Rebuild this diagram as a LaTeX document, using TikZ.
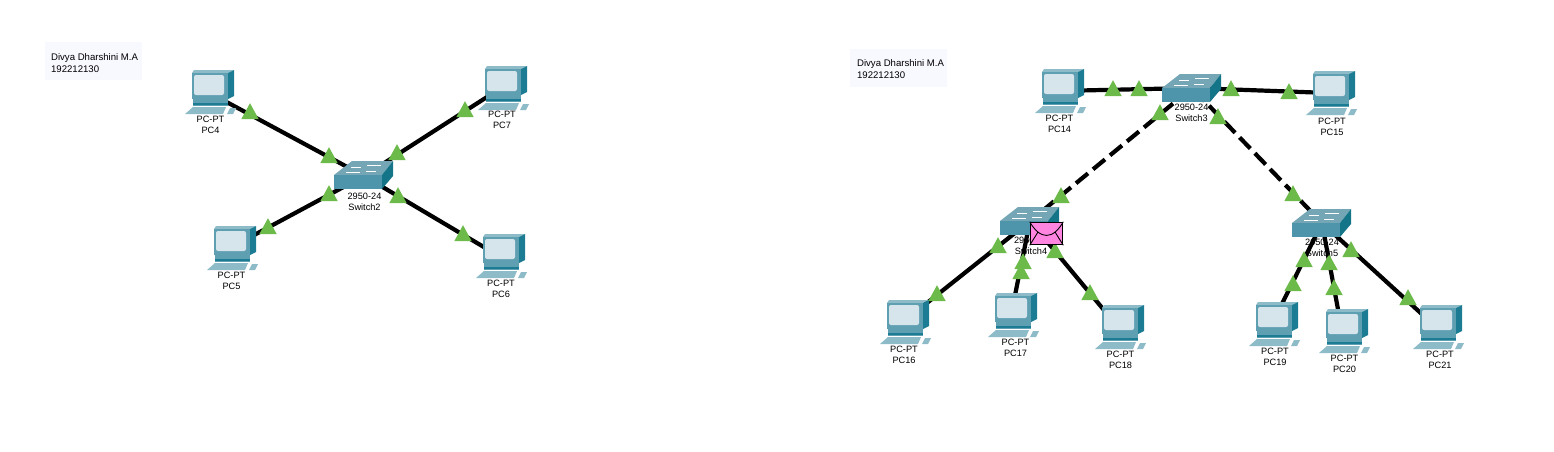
\documentclass[tikz,border=0pt]{standalone}
\usepackage{fontspec}
\setmainfont{Liberation Sans}
\usetikzlibrary{shapes.geometric}
\definecolor{pcfront}{HTML}{5F9FB2}
\definecolor{pcside}{HTML}{1C7C93}
\definecolor{pctop}{HTML}{8DBBC8}
\definecolor{pcscreen}{HTML}{D6E4EB}
\definecolor{swtop}{HTML}{74A6B5}
\definecolor{swfront}{HTML}{4E95AB}
\definecolor{swside}{HTML}{147488}
\definecolor{linkgreen}{HTML}{6CBB4A}
\definecolor{notefill}{HTML}{F8F8FF}
\definecolor{msgpink}{HTML}{FF85E0}
\tikzset{
  pcicon/.pic={
    \fill[pctop] (-16,-19) -- (-14,-22) -- (26,-22) -- (20,-19) -- cycle;
    \fill[pcside] (20,-19) -- (26,-22) -- (26,4) -- (20,7) -- cycle;
    \fill[pcfront] (-16,-19) rectangle (20,7);
    \fill[pcscreen,rounded corners=2pt] (-14,-17) rectangle (16,3);
    \fill[pcfront] (-15,7) rectangle (20,14);
    \fill[pcside] (-15,11) rectangle (20,13);
    \fill[pctop] (-23,22) -- (-15,15) -- (18,15) -- (15,22) -- cycle;
    \fill[pctop] (19,22) -- (22,16) -- (28,16) -- (25,22) -- cycle;
  },
  swicon/.pic={
    \fill[swtop] (0,0) -- (18,-14) -- (59,-14) -- (48,0) -- cycle;
    \fill[swfront] (0,0) rectangle (48,14);
    \fill[swside] (48,0) -- (59,-14) -- (59,1) -- (48,14) -- cycle;
    \draw[white,line width=0.8pt] (17,-8) -- (27,-8) (33,-10) -- (47,-10) (12,-3) -- (26,-3) (32,-4) -- (42,-4);
  }
}
\begin{document}
\begin{tikzpicture}[x=1pt,y=-1pt,line width=4.2pt]
  \tikzstyle{dev}=[circle,inner sep=0pt,minimum size=1pt]
  \tikzstyle{tag}=[inner sep=0pt,align=center,text=black,font=\fontsize{9.2}{11}\selectfont]
  \tikzstyle{note}=[inner sep=0pt,fill=notefill,minimum width=97pt,minimum height=38pt]
  \tikzstyle{notetext}=[inner sep=0pt,align=left,anchor=north west,font=\fontsize{9.6}{12}\selectfont]
  \tikzstyle{arrowup}=[isosceles triangle,isosceles triangle stretches=true,shape border rotate=90,
                       fill=linkgreen,inner sep=0pt,minimum width=17.5pt,minimum height=16pt,yshift=-2pt]
  \tikzstyle{trunk}=[dash pattern=on 15.5pt off 6.5pt]
  \useasboundingbox (0,0) rectangle (1554,452);

  \node[note] (note1) at (93.5,61) {};
  \node[note] (note2) at (898,68) {};
  \node[notetext] (text1) at (49,51.5) {Divya Dharshini M.A\\192212130};
  \node[notetext] (text2) at (855,57) {Divya Dharshini M.A\\192212130};

  \node[dev] (PC4) at (208,92) {};
  \node[dev] (PC7) at (501,88) {};
  \node[dev] (PC5) at (230,248) {};
  \node[dev] (PC6) at (499,256) {};
  \node[dev] (SW2) at (364,176) {};

  \node[dev] (PC14) at (1058,91) {};
  \node[dev] (PC15) at (1329,93) {};
  \node[dev] (SW3) at (1192,88) {};
  \node[dev] (SW4) at (1030,221) {};
  \node[dev] (SW5) at (1322,223) {};
  \node[dev] (PC16) at (903,322) {};
  \node[dev] (PC17) at (1011,315) {};
  \node[dev] (PC18) at (1118,327) {};
  \node[dev] (PC19) at (1272,324) {};
  \node[dev] (PC20) at (1342,331) {};
  \node[dev] (PC21) at (1436,327) {};

  \path[draw=black] (PC4) edge (SW2)
        (PC7) edge (SW2)
        (PC5) edge (SW2)
        (PC6) edge (SW2)
        (PC14) edge (SW3)
        (PC15) edge (SW3)
        (SW4) edge (PC16)
              edge (PC17)
              edge (PC18)
        (SW5) edge (PC19)
              edge (PC20)
              edge (PC21);
  \path[draw=black] (SW3) edge[trunk] (SW4)
        (SW3) edge[trunk] (SW5);

  \foreach \name in {PC4,PC7,PC5,PC6,PC14,PC15,PC16,PC17,PC18,PC19,PC20,PC21}
    \pic at (\name) {pcicon};
  \pic at (334,175) {swicon};
  \pic at (1162,88) {swicon};
  \pic at (1000,221) {swicon};
  \pic at (1292,223) {swicon};

  \foreach \pos [count=\i] in {(250,112),(329,156),(397,153),(465,110),(329,194),(268,227),(398,196),(463,234),
      (1113,89),(1139,89),(1231,89),(1289,92),(1160,113),(1061,196),(1218,117),(1293,194),
      (998,246),(937,294),(1023,262),(1021,272),(1055,251),(1090,293),
      (1304,260),(1293,284),(1329,263),(1334,288),(1351,250),(1408,298)}
    \node[arrowup] (up\i) at \pos {};

  \node[tag] (tag4) at (210.5,124.5) {PC-PT\\PC4};
  \node[tag] (tag7) at (502,120) {PC-PT\\PC7};
  \node[tag] (tag5) at (231.5,280.5) {PC-PT\\PC5};
  \node[tag] (tag6) at (501,289) {PC-PT\\PC6};
  \node[tag] (tagsw2) at (364.5,201.5) {2950-24\\Switch2};
  \node[tag] (tag14) at (1059.5,123.5) {PC-PT\\PC14};
  \node[tag] (tag15) at (1332,127) {PC-PT\\PC15};
  \node[tag] (tagsw3) at (1191.5,112.5) {2950-24\\Switch3};
  \node[tag] (tagsw4) at (1031,245.5) {2950-24\\Switch4};
  \node[tag] (tagsw5) at (1322,247.5) {2950-24\\Switch5};
  \node[tag] (tag16) at (904,354.5) {PC-PT\\PC16};
  \node[tag] (tag17) at (1015.5,347.5) {PC-PT\\PC17};
  \node[tag] (tag18) at (1120.5,359.5) {PC-PT\\PC18};
  \node[tag] (tag19) at (1275,356.5) {PC-PT\\PC19};
  \node[tag] (tag20) at (1344.5,363.5) {PC-PT\\PC20};
  \node[tag] (tag21) at (1440,359.5) {PC-PT\\PC21};

  \node[draw=black,fill=msgpink,line width=1.6pt,inner sep=0pt,minimum width=32pt,minimum height=22pt] (msg) at (1046.5,233.5) {};
  \draw[black,line width=0.9pt] (msg.north west) .. controls (1040,240) and (1053,240) .. (msg.north east)
        (msg.south west) -- (1038,232) (msg.south east) -- (1055,232);
\end{tikzpicture}
\end{document}
